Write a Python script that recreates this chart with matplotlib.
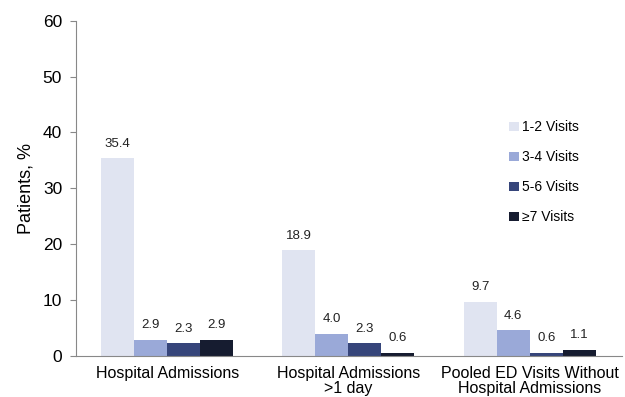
import numpy as np
from matplotlib import pyplot as plt

plt.rcParams['font.family'] = ['Liberation Sans', 'DejaVu Sans']

categories = ["Hospital Admissions", "Hospital Admissions\n>1 day",
              "Pooled ED Visits Without\nHospital Admissions"]
series_names = ["1-2 Visits", "3-4 Visits", "5-6 Visits", "\u22657 Visits"]
visits_1_2 = [35.4, 18.9, 9.7]
visits_3_4 = [2.9, 4.0, 4.6]
visits_5_6 = [2.3, 2.3, 0.6]
visits_7plus = [2.9, 0.6, 1.1]
colors = ["#e0e4f1", "#9aa9d8", "#36457a", "#161c30"]

series = [visits_1_2, visits_3_4, visits_5_6, visits_7plus]

fig = plt.figure(figsize=(6.25, 3.97), dpi=100)
ax = fig.add_axes([0.1216, 0.1033, 0.8734, 0.8447])

x = np.arange(len(categories))
width = 0.182
for i, (vals, name, c) in enumerate(zip(series, series_names, colors)):
    pos = x + (i - 1.5) * width
    ax.bar(pos, vals, width, color=c, label=name)
    for px, v in zip(pos, vals):
        ax.text(px, v + 1.5, f"{v:.1f}", ha="center", va="bottom", fontsize=9.5, color="#222222")

ax.set_xlim(-0.503, 2.508)
ax.set_ylim(0, 60)
ax.set_yticks(range(0, 61, 10))
ax.set_xticks(x)
ax.set_xticklabels(categories, fontsize=11.5, linespacing=1.05)
ax.tick_params(axis="x", length=0, pad=7)
ax.tick_params(axis="y", labelsize=12.5, length=4, color="#888888", pad=6)
ax.set_ylabel("Patients, %", fontsize=13, labelpad=6)

for side in ["top", "right"]:
    ax.spines[side].set_visible(False)
ax.spines["left"].set_color("#888888")
ax.spines["bottom"].set_color("#888888")

leg = ax.legend(loc="upper left", bbox_to_anchor=(0.77, 0.74), frameon=False,
                fontsize=10, handlelength=0.7, handleheight=0.7, handletextpad=0.25,
                labelspacing=1.15)

plt.savefig("out.png", dpi=100)
plt.close()
